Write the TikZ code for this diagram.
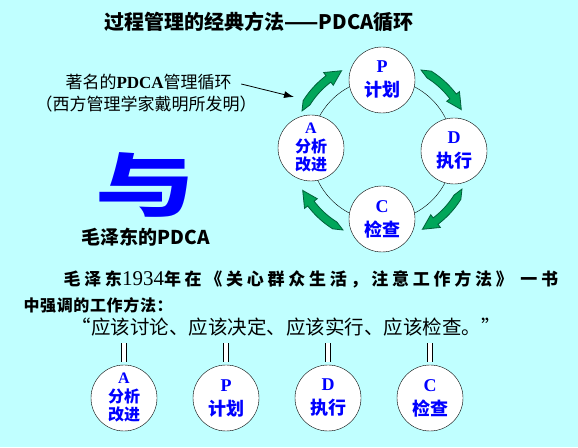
\documentclass[tikz,border=0pt]{standalone}
\usepackage{fontspec}
\setmainfont{Noto Sans CJK SC}
\newfontfamily\latinserif{Liberation Serif}
\usetikzlibrary{arrows.meta}
\definecolor{bgcyan}{HTML}{C0FFFF}
\definecolor{stageblue}{HTML}{0000FF}
\definecolor{leafgreen}{HTML}{00A65A}
\definecolor{leafdark}{HTML}{00603A}

\begin{document}
\begin{tikzpicture}[x=1pt,y=1pt,
    >={Latex[length=10pt,width=7pt]},
    stage/.style={circle,draw=black,thin,fill=white,minimum size=66pt,inner sep=0pt,
                  align=center,text=stageblue,font=\fontsize{18}{24}\selectfont\bfseries},
    stagea/.style={stage,font=\fontsize{16}{18.5}\selectfont\bfseries},
    ribbon/.style={fill=leafgreen,draw=leafdark,line width=0.8pt},
    eqbar/.style={double,double distance=3.5pt,line width=1pt},
    note/.style={anchor=west,font=\fontsize{17}{20}\selectfont},
    say/.style={anchor=west,font=\fontsize{16}{18}\selectfont\bfseries}]

  \fill[bgcyan] (0,0) rectangle (578,447);
  \useasboundingbox (0,0) rectangle (578,447);

  \node[font=\fontsize{20}{24}\selectfont\bfseries] (title) at (259,425)
       {过程管理的经典方法——PDCA循环};

  \node[note] (note1) at (62,365) {著名的{\latinserif\bfseries PDCA}管理循环};
  \node[note] (note2) at (32,343) {（西方管理学家戴明所发明）};
  \coordinate (aim) at (294,350);
  \draw[->,thick] ([xshift=6pt,yshift=-2pt]note1.east) -- (aim);

  \coordinate (ring) at (382,297);
  \draw[thin] (ring) circle[radius=71];
  \begin{scope}[shift={(382,297)}]
    \foreach \c in {135,45,-45,-135}
      \filldraw[ribbon] (\c+19:89) -- (\c+13:85)
        arc[start angle=\c+13,end angle=\c-8,radius=85] -- (\c-8:81) -- (\c-18:89)
        -- (\c-8:97) -- (\c-8:93) arc[start angle=\c-8,end angle=\c+13,radius=93] -- cycle;
  \end{scope}

  \node[stage]  (p) at (382,367) {{\latinserif P}\\计划};
  \node[stage]  (d) at (454,296) {{\latinserif D}\\执行};
  \node[stage]  (c) at (382,228) {{\latinserif C}\\检查};
  \node[stagea] (a) at (311,299) {{\latinserif A}\\分析\\改进};

  \node[text=stageblue,font=\fontsize{100}{100}\selectfont\bfseries] (yu) at (145,262)
       {\scalebox{1}[0.7]{与}};
  \node[font=\fontsize{19}{22}\selectfont\bfseries] (mao) at (146,210) {毛泽东的PDCA};

  \node[say,font=\fontsize{17}{20}\selectfont\bfseries] (l1) at (60,168)
       {\addfontfeature{LetterSpace=22}毛泽东{\latinserif\mdseries\fontsize{21}{24}\selectfont 1934}年在《关心群众生活，注意工作方法》\ 一书};
  \node[say] (l2) at (20,142) {\addfontfeature{LetterSpace=4}中强调的工作方法：};
  \node[anchor=west,font=\fontsize{19.5}{22}\selectfont] (l3) at (68,120)
       {“应该讨论、应该决定、应该实行、应该检查。”};

  \node[stagea] (ba) at (124,49) {{\latinserif A}\\分析\\改进};
  \node[stage]  (bp) at (226,49) {{\latinserif P}\\计划};
  \node[stage]  (bd) at (328,49) {{\latinserif D}\\执行};
  \node[stage]  (bc) at (430,49) {{\latinserif C}\\检查};
  \foreach \n in {ba,bp,bd,bc}
    \draw[eqbar] ([yshift=3pt]\n.north) -- ++(0,19);
\end{tikzpicture}
\end{document}
